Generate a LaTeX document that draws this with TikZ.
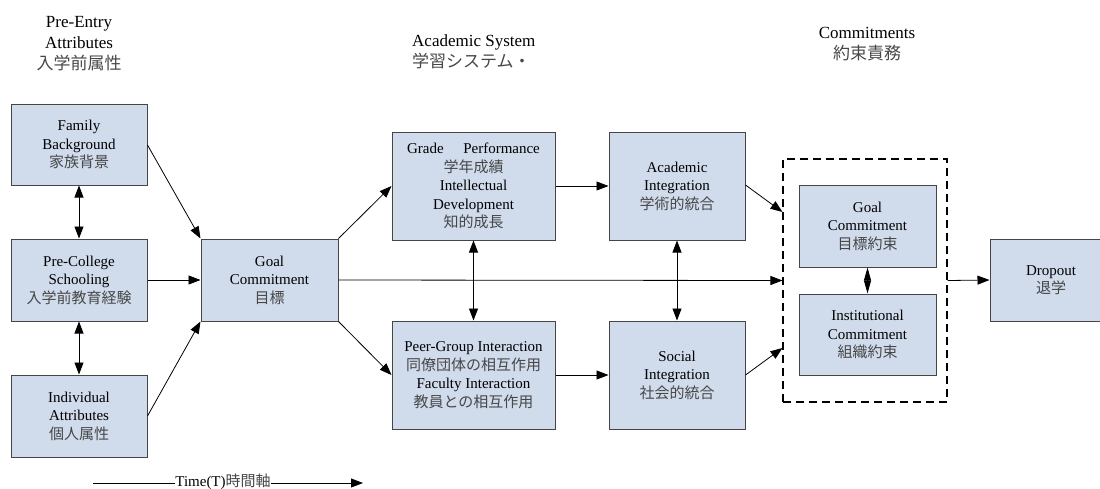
\documentclass[tikz,border=0pt]{standalone}
\usepackage{fontspec}
\setmainfont{Liberation Serif}
\newfontfamily\cjk{Noto Sans CJK JP}
\usetikzlibrary{arrows.meta}
\definecolor{boxfill}{HTML}{D0DBEC}
\definecolor{boxline}{HTML}{454545}
\newcommand\jp[1]{{\cjk\color{black!72}#1}}
\tikzset{
  box/.style={draw=boxline, line width=1pt, fill=boxfill, align=center,
    inner sep=0pt, font=\fontsize{15}{18.5}\selectfont},
  head/.style={align=center, inner sep=0pt, font=\fontsize{17}{21}\selectfont},
  conn/.style={line width=0.8pt, -{Triangle[length=12pt,width=9pt]}},
  both/.style={line width=0.8pt, {Triangle[length=12pt,width=9pt]}-{Triangle[length=12pt,width=9pt]}},
  tight/.style={line width=0.8pt, {Triangle[length=13pt,width=7pt]}-{Triangle[length=13pt,width=7pt]}},
}
\begin{document}
\begin{tikzpicture}[x=1pt,y=-1pt]
\useasboundingbox (0,0) rectangle (1100,488);
\clip (0,0) rectangle (1100,488);

% column headings
\node[head] (h1) at (79,44) {Pre-Entry\\Attributes\\\jp{入学前属性}};
\node[head, align=left, anchor=west] (h2) at (412,52) {Academic System\\\jp{学習システム・}};
\node[head] (h3) at (867,44) {Commitments\\\jp{約束責務}};

% pre-entry attributes
\node[box, minimum width=136pt, minimum height=81pt] (fb) at (79,144.5)
  {Family\\Background\\\jp{家族背景}};
\node[box, minimum width=136pt, minimum height=82pt] (pc) at (79,280)
  {Pre-College\\Schooling\\\jp{入学前教育経験}};
\node[box, minimum width=136pt, minimum height=82pt] (ia) at (79,416)
  {Individual\\Attributes\\\jp{個人属性}};

% goal commitment
\node[box, minimum width=137pt, minimum height=82pt] (gc) at (269.5,280)
  {Goal\\Commitment\\\jp{目標}};

% academic and social systems
\node[box, minimum width=163pt, minimum height=108pt] (gp) at (473.5,186)
  {Grade\hspace{1.3em}Performance\\\jp{学年成績}\\Intellectual\\Development\\\jp{知的成長}};
\node[box, minimum width=163pt, minimum height=108pt] (pg) at (473.5,375)
  {Peer-Group Interaction\\\jp{同僚団体の相互作用}\\Faculty Interaction\\\jp{教員との相互作用}};
\node[box, minimum width=136pt, minimum height=108pt] (ai) at (677,186)
  {Academic\\Integration\\\jp{学術的統合}};
\node[box, minimum width=136pt, minimum height=108pt] (si) at (677,375)
  {Social\\Integration\\\jp{社会的統合}};

% commitments group
\node[draw, dashed, dash pattern=on 8pt off 5pt, line width=1.1pt,
  minimum width=164pt, minimum height=243pt, inner sep=0pt] (cm) at (865,280.5) {};
\node[box, minimum width=137pt, minimum height=82pt] (gc2) at (867.5,226)
  {Goal\\Commitment\\\jp{目標約束}};
\node[box, minimum width=137pt, minimum height=81pt] (ic) at (867.5,334.5)
  {Institutional\\Commitment\\\jp{組織約束}};

% outcome
\node[box, minimum width=122pt, minimum height=82pt] (dr) at (1051,280)
  {Dropout\\\jp{退学}};

% connectors
\draw[both] (fb.south) -- (pc.north);
\draw[both] (pc.south) -- (ia.north);
\draw[conn] ([yshift=-0.5pt]fb.east) -- (gc.north west);
\draw[conn] (pc.east) -- (gc.west);
\draw[conn] (ia.east) -- (gc.south west);
\draw[conn] (gc.north east) -- (gp.west);
\draw[conn] (gc.south east) -- (pg.west);
\draw[conn] (gc.east) -- (cm.west);
\draw[both] (gp.south) -- (pg.north);
\draw[both] (ai.south) -- (si.north);
\draw[conn] (gp.east) -- (ai.west);
\draw[conn] (pg.east) -- (si.west);
\coordinate (cmin1) at ([yshift=68.5pt]cm.west);
\coordinate (cmin2) at ([yshift=-67.5pt]cm.west);
\draw[conn] ([yshift=1pt]ai.east) -- (cmin1);
\draw[conn] (si.east) -- (cmin2);
\draw[tight] (gc2.south) -- (ic.north);
\draw[conn] (cm.east) -- (dr.west);

% time axis
\node[inner sep=0pt, font=\fontsize{15}{18}\selectfont] (tm) at (223,481.5) {Time(T)\jp{時間軸}};
\coordinate (t0) at (93,483);
\coordinate (t1) at (363,483);
\draw[line width=0.8pt] (t0) -- (tm.west |- t0);
\draw[conn] (tm.east |- t1) -- (t1);
\end{tikzpicture}
\end{document}
